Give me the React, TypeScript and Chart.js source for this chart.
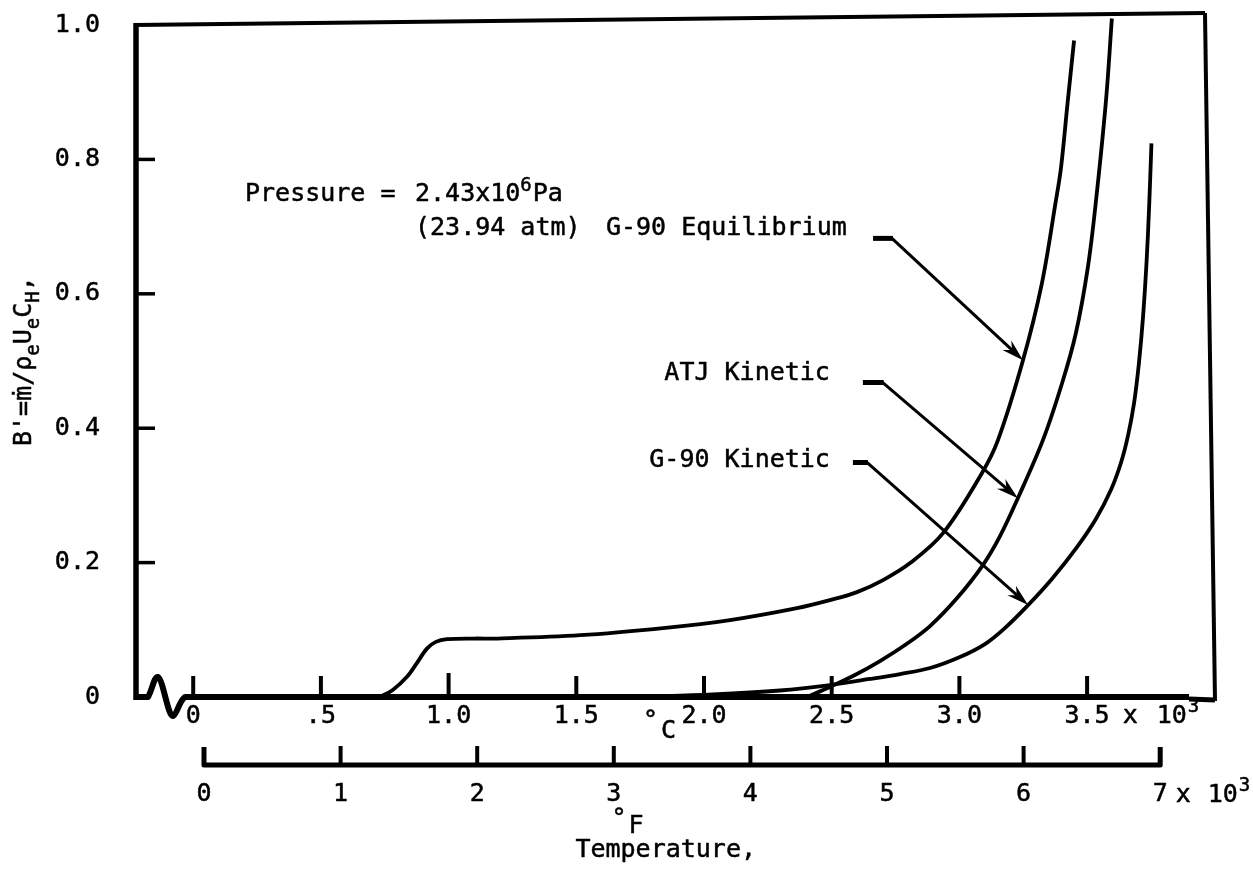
import React, { useEffect, useRef } from "react";
import { Chart, registerables } from "chart.js";

Chart.register(...registerables);

const FONT_FAMILY = "'DejaVu Sans Mono', 'Liberation Mono', monospace";
const BASE_SIZE = 25;
const SUP_SIZE = 19;
const TEXT_STROKE = 0.5;

// Temperature axis in units of 10^3 °C
const C_TICKS = [0, 0.5, 1.0, 1.5, 2.0, 2.5, 3.0, 3.5];
const C_LABELS = ["0", ".5", "1.0", "1.5", "2.0", "2.5", "3.0", "3.5"];
const C_MIN = -0.224;
const C_MAX = 3.9695;

// Companion Fahrenheit scale in units of 10^3 °F
const F_TICKS = [0, 1, 2, 3, 4, 5, 6, 7];
const F_LABELS = ["0", "1", "2", "3", "4", "5", "6", "7"];
const F_MIN = -0.4978;
const F_MAX = 7.3426;

// Blowing parameter B'
const Y_TICKS = [0, 0.2, 0.4, 0.6, 0.8, 1.0];
const Y_LABELS = ["0", "0.2", "0.4", "0.6", "0.8", "1.0"];
const Y_MAX = 1.0179;

// G-90 equilibrium
const EQ_T = [0.731, 0.78, 0.837, 0.875, 0.915, 0.95, 0.994, 1.1, 1.19, 1.515, 1.84, 2.102, 2.364, 2.493, 2.599, 2.701, 2.807, 2.936, 3.088, 3.151, 3.249, 3.323, 3.378, 3.398, 3.423, 3.449];
const EQ_B = [0, 0.01, 0.03, 0.05, 0.072, 0.082, 0.086, 0.087, 0.087, 0.092, 0.1026, 0.1145, 0.1323, 0.1442, 0.1561, 0.174, 0.1993, 0.2439, 0.3331, 0.3822, 0.5011, 0.6156, 0.739, 0.7881, 0.8818, 0.977];

// ATJ kinetic
const ATJ_T = [2.404, 2.493, 2.591, 2.689, 2.787, 2.885, 2.991, 3.092, 3.159, 3.229, 3.327, 3.402, 3.456, 3.503, 3.535, 3.574, 3.597];
const ATJ_B = [0, 0.0149, 0.0327, 0.0535, 0.0773, 0.1056, 0.1472, 0.1963, 0.2394, 0.2959, 0.3822, 0.4669, 0.5413, 0.6394, 0.739, 0.8877, 1.0097];

// G-90 kinetic
const G90K_T = [1.749, 2.035, 2.298, 2.493, 2.65, 2.768, 2.885, 3.002, 3.1, 3.178, 3.269, 3.363, 3.456, 3.535, 3.594, 3.633, 3.66, 3.684, 3.703, 3.719, 3.733, 3.743, 3.752];
const G90K_B = [0, 0.0037, 0.0097, 0.0178, 0.0268, 0.0342, 0.0431, 0.0595, 0.0788, 0.1026, 0.1368, 0.1761, 0.2207, 0.2653, 0.3088, 0.349, 0.3885, 0.4376, 0.4971, 0.5655, 0.6488, 0.7306, 0.8238];

const SERIES = [
  { name: "G-90 Equilibrium", t: EQ_T, b: EQ_B },
  { name: "ATJ Kinetic", t: ATJ_T, b: ATJ_B },
  { name: "G-90 Kinetic", t: G90K_T, b: G90K_B },
];

// Callout labels: right end of text, leader stub, and the curve point the arrow lands on
const CALLOUTS = [
  { series: 0, tip: 20, textRight: [2.559, 0.687], stub: [[2.662, 0.6825], [2.736, 0.6825]] },
  { series: 1, tip: 9, textRight: [2.493, 0.4714], stub: [[2.622, 0.468], [2.7, 0.468]] },
  { series: 2, tip: 10, textRight: [2.493, 0.342], stub: [[2.583, 0.349], [2.638, 0.349]] },
];

const PRESSURE_AT = [0.2028, 0.7375];
const PRESSURE_VALUE_AT = [0.8684, 0.7375];
const ATM_AT = [0.8684, 0.687];
const DEG_C_AT = 1.828;
const DEG_F_AT = 3.1;
const AXIS_TITLE_AT = 3.38;

const Y_TITLE_PARTS: [string, boolean][] = [
  ["B'=ṁ/ρ", false],
  ["e", true],
  ["U", false],
  ["e", true],
  ["C", false],
  ["H", true],
  [",", false],
];

const font = (size: number) => `${size}px ${FONT_FAMILY}`;

const decorPlugin = {
  id: "decor",
  beforeDraw(chart: any) {
    const ctx = chart.ctx;
    ctx.save();
    ctx.fillStyle = "#fff";
    ctx.fillRect(0, 0, chart.width, chart.height);
    ctx.restore();
  },
  afterDraw(chart: any) {
    const ctx: CanvasRenderingContext2D = chart.ctx;
    const ca = chart.chartArea;
    const xs = chart.scales.x;
    const xf = chart.scales.xF;
    const ys = chart.scales.y;
    const px = (t: number) => xs.getPixelForValue(t);
    const py = (v: number) => ys.getPixelForValue(v);
    const fx = (f: number) => xf.getPixelForValue(f);

    const seg = (x1: number, y1: number, x2: number, y2: number, w: number) => {
      ctx.save();
      ctx.strokeStyle = "#000";
      ctx.lineWidth = w;
      ctx.lineCap = "butt";
      ctx.beginPath();
      ctx.moveTo(x1, y1);
      ctx.lineTo(x2, y2);
      ctx.stroke();
      ctx.restore();
    };
    const text = (s: string, x: number, y: number, size = BASE_SIZE, align: CanvasTextAlign = "left") => {
      ctx.save();
      ctx.fillStyle = "#000";
      ctx.strokeStyle = "#000";
      ctx.font = font(size);
      ctx.textAlign = align;
      ctx.textBaseline = "alphabetic";
      ctx.lineWidth = TEXT_STROKE;
      ctx.lineJoin = "round";
      ctx.fillText(s, x, y);
      ctx.strokeText(s, x, y);
      ctx.restore();
    };

    ctx.save();
    ctx.strokeStyle = "#000";
    ctx.fillStyle = "#000";
    ctx.lineJoin = "round";

    const L = ca.left;
    const R = ca.right;
    const y0 = py(0);
    const y1 = py(1);

    // frame
    seg(L, y0 + 3, L, y1 - 2, 5.5);
    seg(L - 2, y1, R - 2, ca.top, 4);
    seg(R - 2, ca.top, R + 8, y0 + 4, 4);

    // temperature axis with the broken-scale mark at its origin
    ctx.lineWidth = 6;
    ctx.beginPath();
    ctx.moveTo(L, y0);
    ctx.lineTo(L + 12, y0);
    ctx.bezierCurveTo(L + 16, y0 - 6, L + 18, y0 - 21, L + 22, y0 - 20);
    ctx.bezierCurveTo(L + 27, y0 - 18, L + 32, y0 + 20, L + 37, y0 + 19);
    ctx.bezierCurveTo(L + 41, y0 + 18, L + 43, y0 + 4, L + 49, y0);
    ctx.lineTo(R - 18, y0);
    ctx.stroke();
    seg(R - 18, y0 + 2, R + 8, y0 + 3, 5);

    // inward tick marks
    C_TICKS.forEach((t) => seg(px(t), y0, px(t), y0 - (t === 1 ? 24 : 21), 4));
    Y_TICKS.slice(1, -1).forEach((v) => seg(L, py(v), L + 19, py(v), 3.5));

    // Fahrenheit scale bar
    const yF = xf.top + 23;
    ctx.lineWidth = 5;
    ctx.beginPath();
    ctx.moveTo(fx(F_TICKS[0]), yF - 18);
    ctx.lineTo(fx(F_TICKS[0]), yF);
    ctx.lineTo(fx(F_TICKS[F_TICKS.length - 1]), yF);
    ctx.lineTo(fx(F_TICKS[F_TICKS.length - 1]), yF - 18);
    ctx.stroke();
    F_TICKS.slice(1, -1).forEach((f) => seg(fx(f), yF, fx(f), yF - 19, 4));

    // "x 10^3" multipliers after the last tick labels
    const multiplier = (label: string, centerX: number, baseline: number, gapX: number, gap10: number) => {
      ctx.font = font(BASE_SIZE);
      const right = centerX + ctx.measureText(label).width / 2;
      const w10 = ctx.measureText("10").width;
      text("x", right + gapX, baseline);
      text("10", right + gap10, baseline);
      text("3", right + gap10 + w10 + 1, baseline - 11, SUP_SIZE);
    };
    const cBase = y0 + 26;
    const fBase = xf.top + 60;
    multiplier(C_LABELS[C_LABELS.length - 1], px(C_TICKS[C_TICKS.length - 1]), cBase, 13, 47);
    multiplier(F_LABELS[F_LABELS.length - 1], fx(F_TICKS[F_TICKS.length - 1]), fBase, 8, 40);

    // unit marks and axis title
    const cx = px(DEG_C_AT);
    text("C", cx + 1, y0 + 41);
    text("°", cx - 2, y0 + 31, BASE_SIZE, "right");
    const fMid = fx(DEG_F_AT);
    text("F", fMid + 1, xf.top + 91);
    text("°", fMid - 1, xf.top + 84, BASE_SIZE, "right");
    text("Temperature,", fx(AXIS_TITLE_AT), xf.top + 115, BASE_SIZE, "center");

    // pressure note
    text("Pressure =", px(PRESSURE_AT[0]), py(PRESSURE_AT[1]));
    let xv = px(PRESSURE_VALUE_AT[0]);
    const yv = py(PRESSURE_VALUE_AT[1]);
    text("2.43x10", xv, yv);
    ctx.font = font(BASE_SIZE);
    xv += ctx.measureText("2.43x10").width;
    text("6", xv, yv - 10, SUP_SIZE);
    ctx.font = font(SUP_SIZE);
    xv += ctx.measureText("6").width + 1;
    text("Pa", xv, yv);
    text("(23.94 atm)", px(ATM_AT[0]), py(ATM_AT[1]));

    // callouts with arrows
    CALLOUTS.forEach((c) => {
      const s = SERIES[c.series];
      text(s.name, px(c.textRight[0]), py(c.textRight[1]), BASE_SIZE, "right");
      const tipX = px(s.t[c.tip]);
      const tipY = py(s.b[c.tip]);
      const ax = px(c.stub[0][0]);
      const ay = py(c.stub[0][1]);
      const kx = px(c.stub[1][0]);
      const ky = py(c.stub[1][1]);
      seg(ax, ay, kx + 1, ky, 5);
      const dx = tipX - kx;
      const dy = tipY - ky;
      const len = Math.hypot(dx, dy);
      const ux = dx / len;
      const uy = dy / len;
      const head = 22;
      const half = 6.5;
      seg(kx, ky, tipX - ux * 10, tipY - uy * 10, 3);
      const bx = tipX - ux * head;
      const by = tipY - uy * head;
      const nx = tipX - ux * (head - 7);
      const ny = tipY - uy * (head - 7);
      ctx.beginPath();
      ctx.moveTo(tipX, tipY);
      ctx.lineTo(bx - uy * half, by + ux * half);
      ctx.lineTo(nx, ny);
      ctx.lineTo(bx + uy * half, by - ux * half);
      ctx.closePath();
      ctx.fill();
    });

    // y-axis title with subscripts, reading upward
    ctx.save();
    ctx.translate(31, 446);
    ctx.rotate(-Math.PI / 2);
    let u = 0;
    Y_TITLE_PARTS.forEach(([s, sub]) => {
      const size = sub ? SUP_SIZE : BASE_SIZE;
      text(s, u, sub ? 8 : 0, size);
      ctx.font = font(size);
      u += ctx.measureText(s).width;
    });
    ctx.restore();

    ctx.restore();
  },
};

export default function App() {
  const canvasRef = useRef<HTMLCanvasElement | null>(null);

  useEffect(() => {
    const canvas = canvasRef.current;
    if (!canvas) return;

    const tickFont = { family: FONT_FAMILY, size: BASE_SIZE };
    const tickBase = {
      font: tickFont,
      color: "#000",
      textStrokeColor: "#000",
      textStrokeWidth: TEXT_STROKE,
      autoSkip: false,
      maxRotation: 0,
      minRotation: 0,
    };

    const chart = new Chart(canvas, {
      type: "line",
      data: {
        datasets: SERIES.map((s) => ({
          label: s.name,
          data: s.t.map((t, i) => ({ x: t, y: s.b[i] })),
          borderColor: "#000",
          borderWidth: 3.8,
          pointRadius: 0,
          fill: false,
          tension: 0.35,
          xAxisID: "x",
          yAxisID: "y",
        })),
      },
      plugins: [decorPlugin],
      options: {
        animation: false,
        responsive: false,
        devicePixelRatio: 1,
        events: [],
        layout: { padding: { left: 0, right: 46, top: 13, bottom: 0 } },
        plugins: {
          legend: { display: false },
          tooltip: { enabled: false },
          title: { display: false },
        },
        scales: {
          x: {
            type: "linear",
            position: "bottom",
            weight: 0,
            min: C_MIN,
            max: C_MAX,
            grid: { display: false, drawTicks: false },
            border: { display: false },
            ticks: {
              ...tickBase,
              padding: 4,
              callback: (v: any) => C_LABELS[C_TICKS.indexOf(Number(v))] ?? "",
            },
            afterBuildTicks: (s: any) => {
              s.ticks = C_TICKS.map((value) => ({ value }));
            },
            afterFit: (s: any) => {
              s.height = 45;
              s.paddingLeft = 0;
              s.paddingRight = 0;
            },
          },
          xF: {
            type: "linear",
            position: "bottom",
            weight: 1,
            min: F_MIN,
            max: F_MAX,
            grid: { display: false, drawTicks: false },
            border: { display: false },
            ticks: {
              ...tickBase,
              padding: 37,
              callback: (v: any) => F_LABELS[F_TICKS.indexOf(Number(v))] ?? "",
            },
            afterBuildTicks: (s: any) => {
              s.ticks = F_TICKS.map((value) => ({ value }));
            },
            afterFit: (s: any) => {
              s.height = 132;
              s.paddingLeft = 0;
              s.paddingRight = 0;
            },
          },
          y: {
            type: "linear",
            position: "left",
            min: 0,
            max: Y_MAX,
            grid: { display: false, drawTicks: false },
            border: { display: false },
            ticks: {
              ...tickBase,
              padding: 36,
              callback: (v: any) => Y_LABELS[Y_TICKS.indexOf(Number(v))] ?? "",
            },
            afterBuildTicks: (s: any) => {
              s.ticks = Y_TICKS.map((value) => ({ value }));
            },
            afterFit: (s: any) => {
              s.width = 136;
              s.paddingTop = 0;
              s.paddingBottom = 0;
            },
          },
        },
      },
    } as any);

    return () => chart.destroy();
  }, []);

  return (
    <div style={{ position: "absolute", left: 0, top: 0, width: 1253, height: 874, background: "#fff" }}>
      <canvas ref={canvasRef} width={1253} height={874} style={{ display: "block", width: 1253, height: 874 }} />
    </div>
  );
}
